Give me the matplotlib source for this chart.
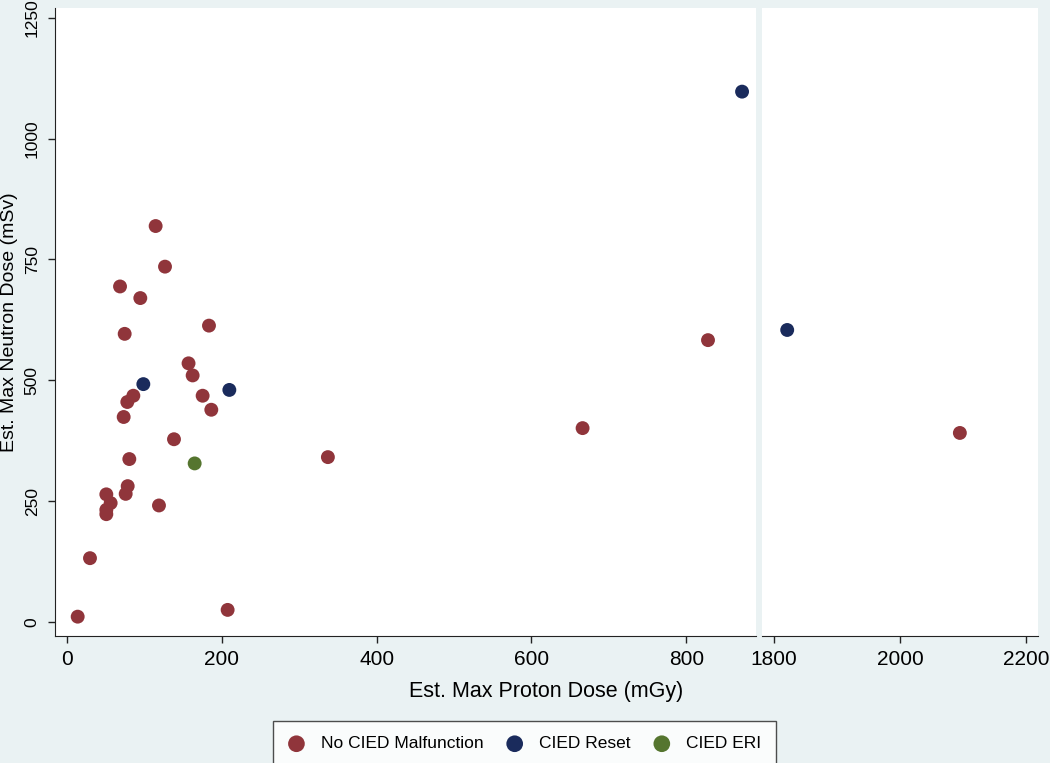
import matplotlib
matplotlib.use("Agg")
import matplotlib.pyplot as plt

plt.rcParams['font.family'] = ['Liberation Sans', 'DejaVu Sans']

# Est. Max Proton Dose (mGy) / Est. Max Neutron Dose (mSv)
no_malf_x = [114.5, 126.6, 68.5, 94.7, 183.4, 74.5, 157, 162.3, 85.7, 77.9,
             175.2, 186.4, 73.2, 138.2, 80.5, 78.4, 75.8, 50.8, 56.4, 50.8,
             50.8, 118.8, 29.7, 207.5, 13.8, 337, 666, 828, 2095]
no_malf_y = [819, 735, 694, 670, 613, 596, 535, 510, 468, 455,
             468, 439, 424, 378, 337, 281, 265, 264, 246, 232,
             223, 241, 132, 25, 11, 341, 401, 583, 391]
reset_x = [98.6, 209.7, 872, 1821]
reset_y = [492, 480, 1097, 604]
eri_x = [164.9]
eri_y = [328]

groups = [
    ('No CIED Malfunction', no_malf_x, no_malf_y, '#90353b'),
    ('CIED Reset', reset_x, reset_y, '#1a2b5c'),
    ('CIED ERI', eri_x, eri_y, '#55752f'),
]

left_ticks = [0, 200, 400, 600, 800]
right_ticks = [1800, 2000, 2200]
y_ticks = [0, 250, 500, 750, 1000, 1250]

W, H = 1050, 763
bg = '#eaf2f3'
fig = plt.figure(figsize=(W / 100, H / 100), dpi=100, facecolor=bg)

ax1 = fig.add_axes([55 / W, 1 - 636 / H, (756 - 55) / W, (636 - 8) / H])
ax2 = fig.add_axes([762 / W, 1 - 636 / H, (1038 - 762) / W, (636 - 8) / H])

for ax in (ax1, ax2):
    for label, xs, ys, c in groups:
        ax.scatter(xs, ys, s=100, color=c, edgecolors='none', label=label, zorder=3)
    ax.set_ylim(-29, 1270)
    ax.set_facecolor('white')
    for side in ('top', 'right'):
        ax.spines[side].set_visible(False)
    ax.spines['bottom'].set_color('#222222')
    ax.spines['left'].set_color('#222222')
    ax.tick_params(axis='x', length=5, width=1, color='#222222', labelsize=15, pad=5)

ax1.set_xlim(-15.5, 890)
ax1.set_xticks(left_ticks)
ax1.set_yticks(y_ticks)
ax1.set_yticklabels([str(t) for t in y_ticks], rotation=90, va='center')
ax1.tick_params(axis='y', length=5, width=1, color='#222222', labelsize=12.5, pad=6)
ax1.set_ylabel('Est. Max Neutron Dose (mSv)', fontsize=14)
ax1.yaxis.set_label_coords((18 - 55) / (756 - 55), 0.5)

ax2.set_xlim(1781, 2219)
ax2.set_xticks(right_ticks)
ax2.spines['left'].set_visible(False)
ax2.set_yticks([])

fig.text((55 + 1038) / 2 / W, 1 - 692 / H, 'Est. Max Proton Dose (mGy)',
         ha='center', va='center', fontsize=15.5)

handles, labels = ax1.get_legend_handles_labels()
leg = fig.legend(handles, labels, loc='lower left', ncol=3, mode='expand',
                 bbox_to_anchor=(273 / W, -0.004, (776 - 273) / W, 0.06),
                 fontsize=12.5, frameon=True, fancybox=False, borderpad=0.85,
                 handlelength=1.0, handletextpad=0.9, borderaxespad=0,
                 scatterpoints=1, markerscale=1.2)
leg.get_frame().set_edgecolor('#222222')
leg.get_frame().set_linewidth(1)
leg.get_frame().set_facecolor('white')

fig.savefig('out.png', dpi=100, facecolor=bg)
